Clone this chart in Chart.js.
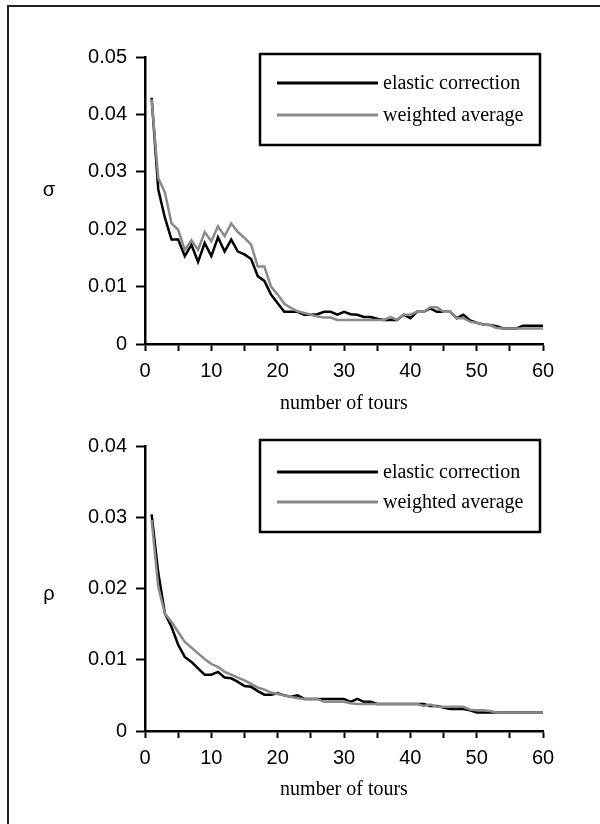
<!DOCTYPE html>
<html>
<head>
<meta charset="utf-8">
<script src="https://cdn.jsdelivr.net/npm/chart.js@4.4.0/dist/chart.umd.min.js"></script>
<style>
  body { margin: 0; background: #fff; overflow: hidden; }
  #frame { position: absolute; left: 7px; top: 5px; width: 700px; height: 900px; border: 2px solid #222; }
  canvas { position: absolute; left: 0; }
  #sigmaChart { top: 0; }
  #rhoChart { top: 412px; }
</style>
</head>
<body>
<div id="frame"></div>
<canvas id="sigmaChart" width="600" height="420"></canvas>
<canvas id="rhoChart" width="600" height="412"></canvas>
<script>
// number of tours 1..60
var tours = [];
for (var i = 1; i <= 60; i++) { tours.push(i); }

var seriesNames = ["elastic correction", "weighted average"];

// sigma (top chart)
var sigmaElastic = [0.0429, 0.0269, 0.0220, 0.0182, 0.0182, 0.0153, 0.0173, 0.0143, 0.0176, 0.0153,
  0.0186, 0.0161, 0.0182, 0.0161, 0.0156, 0.0148, 0.0118, 0.0110, 0.0086, 0.0071,
  0.0056, 0.0056, 0.0056, 0.0051, 0.0051, 0.0052, 0.0056, 0.0056, 0.0051, 0.0056,
  0.0052, 0.0051, 0.0047, 0.0047, 0.0044, 0.0042, 0.0042, 0.0042, 0.0051, 0.0045,
  0.0056, 0.0056, 0.0062, 0.0056, 0.0056, 0.0056, 0.0045, 0.0051, 0.0041, 0.0037,
  0.0034, 0.0033, 0.0031, 0.0027, 0.0027, 0.0027, 0.0032, 0.0032, 0.0032, 0.0032];
var sigmaWeighted = [0.0426, 0.0289, 0.0264, 0.0210, 0.0199, 0.0164, 0.0181, 0.0164, 0.0195, 0.0179,
  0.0205, 0.0188, 0.0210, 0.0195, 0.0185, 0.0173, 0.0135, 0.0135, 0.0100, 0.0086,
  0.0070, 0.0063, 0.0057, 0.0054, 0.0051, 0.0048, 0.0046, 0.0046, 0.0042, 0.0042,
  0.0042, 0.0042, 0.0042, 0.0042, 0.0042, 0.0042, 0.0047, 0.0042, 0.0051, 0.0051,
  0.0056, 0.0056, 0.0064, 0.0064, 0.0056, 0.0056, 0.0045, 0.0045, 0.0039, 0.0037,
  0.0034, 0.0033, 0.0028, 0.0027, 0.0027, 0.0027, 0.0027, 0.0027, 0.0027, 0.0027];

// rho (bottom chart)
var rhoElastic = [0.0304, 0.0222, 0.0165, 0.0146, 0.0121, 0.0104, 0.0097, 0.0088, 0.0079, 0.0079,
  0.0083, 0.0075, 0.0074, 0.0069, 0.0063, 0.0062, 0.0056, 0.0051, 0.0051, 0.0053,
  0.0050, 0.0048, 0.0050, 0.0045, 0.0045, 0.0045, 0.0045, 0.0045, 0.0045, 0.0045,
  0.0041, 0.0045, 0.0041, 0.0041, 0.0038, 0.0038, 0.0038, 0.0038, 0.0038, 0.0038,
  0.0038, 0.0038, 0.0035, 0.0035, 0.0033, 0.0031, 0.0031, 0.0031, 0.0029, 0.0026,
  0.0026, 0.0026, 0.0026, 0.0026, 0.0026, 0.0026, 0.0026, 0.0026, 0.0026, 0.0026];
var rhoWeighted = [0.0296, 0.0202, 0.0165, 0.0153, 0.0139, 0.0125, 0.0117, 0.0109, 0.0101, 0.0094,
  0.0090, 0.0083, 0.0079, 0.0075, 0.0071, 0.0066, 0.0061, 0.0058, 0.0054, 0.0052,
  0.0050, 0.0048, 0.0046, 0.0045, 0.0045, 0.0045, 0.0041, 0.0041, 0.0041, 0.0041,
  0.0039, 0.0038, 0.0038, 0.0038, 0.0038, 0.0038, 0.0038, 0.0038, 0.0038, 0.0038,
  0.0038, 0.0035, 0.0037, 0.0034, 0.0034, 0.0034, 0.0034, 0.0034, 0.0030, 0.0029,
  0.0029, 0.0028, 0.0026, 0.0026, 0.0026, 0.0026, 0.0026, 0.0026, 0.0026, 0.0026];

var xTicks = [0, 10, 20, 30, 40, 50, 60];

function toPoints(values) {
  return values.map(function (v, i) { return { x: tours[i], y: v }; });
}

// draws the boxed legend and the greek axis letter
var decorPlugin = {
  id: "decor",
  afterDraw: function (chart) {
    var o = chart.options.plugins.decor;
    var ctx = chart.ctx;
    var ca = chart.chartArea;
    ctx.save();
    // axis letter
    ctx.fillStyle = "#000";
    ctx.font = "20px 'Liberation Sans', Arial, sans-serif";
    ctx.textAlign = "center";
    ctx.textBaseline = "middle";
    ctx.fillText(o.letter, o.letterX, o.letterY);
    // legend box
    var bx = ca.left + o.boxLeft, by = ca.top + o.boxTop;
    var bw = ca.right - o.boxRight - bx, bh = o.boxHeight;
    ctx.lineWidth = 2.5;
    ctx.strokeStyle = "#000";
    ctx.fillStyle = "#fff";
    ctx.fillRect(bx, by, bw, bh);
    ctx.strokeRect(bx, by, bw, bh);
    ctx.font = "20px 'Liberation Serif', 'Times New Roman', serif";
    ctx.textAlign = "left";
    chart.data.datasets.forEach(function (ds, i) {
      var ly = by + o.firstLine + i * o.lineGap;
      ctx.beginPath();
      ctx.strokeStyle = ds.borderColor;
      ctx.lineWidth = 3;
      ctx.moveTo(bx + 17, ly);
      ctx.lineTo(bx + 118, ly);
      ctx.stroke();
      ctx.fillStyle = "#000";
      ctx.fillText(ds.label, bx + 123, ly + 1);
    });
    ctx.restore();
  }
};

function makeChart(id, elastic, weighted, yMax, xAxisHeight, padTop, padBottom, decor) {
  var canvas = document.getElementById(id);
  return new Chart(canvas, {
    type: "line",
    data: {
      datasets: [{
        label: seriesNames[0],
        data: toPoints(elastic),
        borderColor: "#000000",
        borderWidth: 2.5,
        pointRadius: 0,
        tension: 0,
        order: 1
      }, {
        label: seriesNames[1],
        data: toPoints(weighted),
        borderColor: "#8a8a8a",
        borderWidth: 2.5,
        pointRadius: 0,
        tension: 0,
        order: 0
      }]
    },
    options: {
      responsive: false,
      animation: false,
      events: [],
      layout: { padding: { top: padTop, right: 57, left: 0, bottom: padBottom } },
      plugins: {
        legend: { display: false },
        tooltip: { enabled: false },
        decor: decor
      },
      scales: {
        x: {
          type: "linear",
          min: 0,
          max: 60,
          afterFit: function (scale) { scale.height = xAxisHeight; },
          afterBuildTicks: function (scale) {
            var t = [];
            for (var v = 0; v <= 60; v += 5) { t.push({ value: v }); }
            scale.ticks = t;
          },
          ticks: {
            autoSkip: false,
            maxRotation: 0,
            padding: 8,
            color: "#000",
            font: { family: "'Liberation Sans', Arial, sans-serif", size: 20 },
            callback: function (v) { return xTicks.indexOf(v) >= 0 ? String(v) : ""; }
          },
          grid: { drawOnChartArea: false, drawTicks: true, tickLength: 7, tickWidth: 2, color: "#000" },
          border: { display: true, color: "#000", width: 2.5 },
          title: {
            display: true,
            text: "number of tours",
            color: "#000",
            font: { family: "'Liberation Serif', 'Times New Roman', serif", size: 20 },
            padding: { top: 0, bottom: 0 }
          }
        },
        y: {
          min: 0,
          max: yMax,
          afterFit: function (scale) { scale.width = 145; },
          ticks: {
            stepSize: 0.01,
            padding: 9,
            color: "#000",
            font: { family: "'Liberation Sans', Arial, sans-serif", size: 20 },
            callback: function (v) { return v === 0 ? "0" : v.toFixed(2); }
          },
          grid: { drawOnChartArea: false, drawTicks: true, tickLength: 9, tickWidth: 2, color: "#000" },
          border: { display: true, color: "#000", width: 2.5 }
        }
      }
    },
    plugins: [decorPlugin]
  });
}

makeChart("sigmaChart", sigmaElastic, sigmaWeighted, 0.05, 72, 57, 4,
  { letter: "σ", letterX: 49, letterY: 190, boxLeft: 115, boxTop: -3, boxRight: 3, boxHeight: 91, firstLine: 29, lineGap: 32 });
makeChart("rhoChart", rhoElastic, rhoWeighted, 0.04, 71, 34, 22,
  { letter: "ρ", letterX: 49, letterY: 182, boxLeft: 115, boxTop: -6, boxRight: 3, boxHeight: 92, firstLine: 32, lineGap: 30 });
</script>
</body>
</html>
